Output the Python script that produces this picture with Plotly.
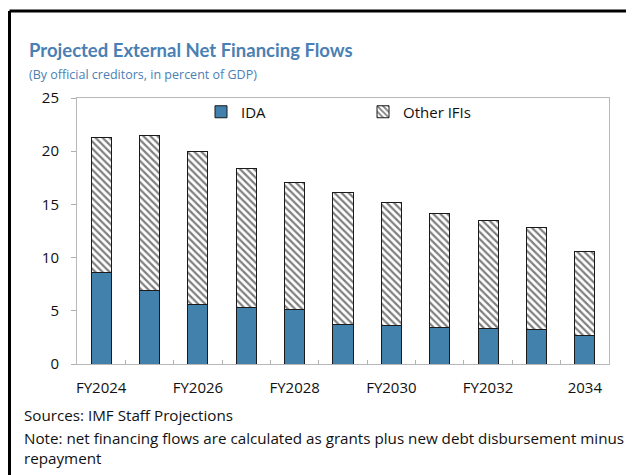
import plotly.graph_objects as go

categories = ["FY2024", "FY2025", "FY2026", "FY2027", "FY2028", "FY2029",
              "FY2030", "FY2031", "FY2032", "FY2033", "2034"]
tick_labels = ["FY2024", "", "FY2026", "", "FY2028", "", "FY2030", "",
               "FY2032", "", "2034"]
ida = [8.6, 6.95, 5.55, 5.3, 5.15, 3.7, 3.6, 3.45, 3.35, 3.25, 2.65]
other_ifis = [12.7, 14.5, 14.45, 13.05, 11.95, 12.4, 11.55, 10.7, 10.15, 9.55, 7.95]

# page body has an 8px margin: figure starts at screen (8, 8)
OFF = 8
W, H = 634 - OFF, 475 - OFF
# plot area in screen pixels
SL, SR, ST, SB = 77, 609, 98, 364
L, R, T, B = SL - OFF, SR - OFF, ST - OFF, SB - OFF
PW, PH = R - L, B - T


def px(x):
    return (x - SL) / PW


def py(y):
    return (SB - y) / PH


FONT = "Open Sans"
BLUE_T = "#4a80b3"

fig = go.Figure()
fig.add_trace(go.Bar(
    x=categories, y=ida, name="IDA",
    marker=dict(color="#4181ab", line=dict(color="#1a1a1a", width=1)),
))
fig.add_trace(go.Bar(
    x=categories, y=other_ifis, name="Other IFIs",
    marker=dict(color="white", line=dict(color="#1a1a1a", width=1),
                pattern=dict(shape="\\", fgcolor="black", bgcolor="white",
                             size=5, solidity=0.45)),
))

annotations = [
    dict(text="<b>Projected External Net Financing Flows</b>", x=px(27), y=py(50),
         font=dict(size=18.5, color=BLUE_T, family="Lato")),
    dict(text="(By official creditors, in percent of GDP)", x=px(27), y=py(74),
         font=dict(size=12.5, color=BLUE_T, family=FONT)),
    dict(text="Sources: IMF Staff Projections", x=px(22), y=py(415),
         font=dict(size=15.2, color="#111", family=FONT)),
    dict(text="Note: net financing flows are calculated as grants plus new debt disbursement minus",
         x=px(22), y=py(438), font=dict(size=15.2, color="#111", family=FONT)),
    dict(text="repayment", x=px(22), y=py(458),
         font=dict(size=15.2, color="#111", family=FONT)),
]
for a in annotations:
    a.update(xref="paper", yref="paper", xanchor="left", yanchor="middle",
             showarrow=False)

shapes = [
    dict(type="line", xref="paper", yref="paper", x0=px(9.5), x1=px(660),
         y0=py(11), y1=py(11), line=dict(color="black", width=3)),
    dict(type="line", xref="paper", yref="paper", x0=px(9.5), x1=px(9.5),
         y0=py(11), y1=py(500), line=dict(color="black", width=3)),
]

fig.update_layout(
    width=W, height=H,
    margin=dict(l=L, r=W - R, t=T, b=H - B, autoexpand=False),
    paper_bgcolor="white", plot_bgcolor="white",
    barmode="stack", bargap=0.586,
    font=dict(family=FONT, size=15, color="#111"),
    showlegend=True,
    legend=dict(orientation="h", x=px(201), y=py(112), xanchor="left",
                yanchor="middle", entrywidth=117, entrywidthmode="pixels",
                itemwidth=30, font=dict(size=15, family=FONT, color="#111"),
                bgcolor="rgba(0,0,0,0)", traceorder="normal"),
    annotations=annotations,
    shapes=shapes,
)
fig.update_xaxes(
    type="category", tickmode="array", tickvals=categories, ticktext=tick_labels,
    tickson="boundaries", ticks="inside", ticklen=4, tickcolor="#b0b0b0",
    showline=True, linecolor="#b8b8b8", linewidth=1, mirror=True,
    showgrid=False, ticklabelstandoff=10, tickangle=0, automargin=False,
    tickfont=dict(size=15, family=FONT, color="#111"),
)
fig.update_yaxes(
    range=[0, 25], tickvals=[0, 5, 10, 15, 20, 25], ticks="outside", ticklen=5,
    tickcolor="#b0b0b0", showline=True, linecolor="#b8b8b8", linewidth=1,
    mirror=True, showgrid=False, zeroline=False, ticklabelstandoff=9,
    automargin=False,
    tickfont=dict(size=15, family=FONT, color="#111"),
)

fig.write_html("out.html")
